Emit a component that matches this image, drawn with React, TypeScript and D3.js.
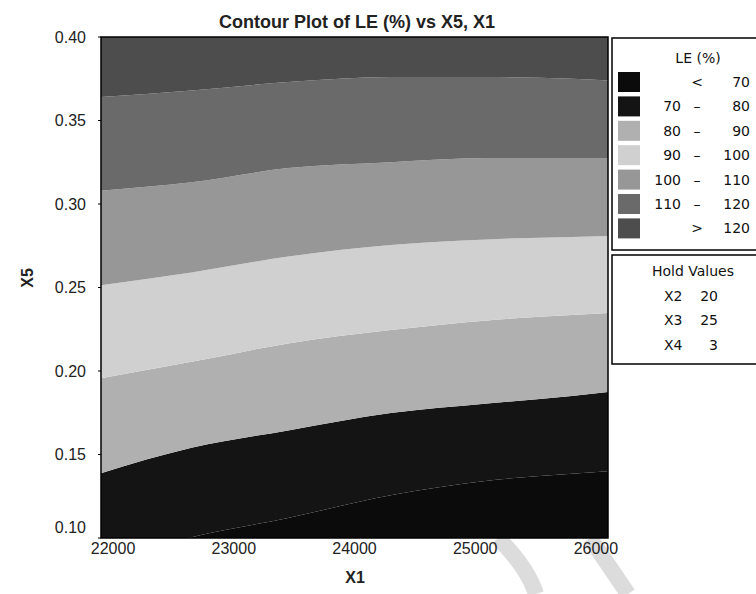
import React from 'react';
import * as d3 from 'd3';

// X1 sample positions along each contour boundary
const x1Grid = [21900, 22650, 23450, 24300, 25100, 25800, 26100];
// X5 value of each contour boundary (LE = 70, 80, ... 120) at those X1 positions
const b70 = [0.086, 0.1005, 0.112, 0.1256, 0.1343, 0.1385, 0.14];
const b80 = [0.1388, 0.154, 0.1644, 0.1748, 0.1805, 0.185, 0.1874];
const b90 = [0.1957, 0.2055, 0.2165, 0.2245, 0.2303, 0.2335, 0.2347];
const b100 = [0.2514, 0.259, 0.2685, 0.2754, 0.2788, 0.2803, 0.2808];
const b110 = [0.308, 0.313, 0.3215, 0.325, 0.3275, 0.3275, 0.3275];
const b120 = [0.364, 0.368, 0.373, 0.376, 0.376, 0.375, 0.374];
const boundaries = [b70, b80, b90, b100, b110, b120];

const bandLo = ['', '70', '80', '90', '100', '110', ''];
const bandHi = ['70', '80', '90', '100', '110', '120', '120'];
const bandSym = ['<', '–', '–', '–', '–', '–', '>'];
const bandColors = ['#0b0b0b', '#141414', '#b0b0b0', '#d0d0d0', '#979797', '#6a6a6a', '#4d4d4d'];

const xTicks = [22000, 23000, 24000, 25000, 26000];
const yTicks = [0.1, 0.15, 0.2, 0.25, 0.3, 0.35, 0.4];

const holdNames = ['X2', 'X3', 'X4'];
const holdVals = ['20', '25', '3'];

const W = 756, H = 594;
const plot = { left: 101, right: 608, top: 37, bottom: 538 };

export default function App() {
  const x = d3.scaleLinear().domain([21900, 26100]).range([plot.left, plot.right]);
  const y = d3.scaleLinear().domain([0.1, 0.4]).range([plot.bottom, plot.top]);
  const yDom = y.domain();

  const bands = bandColors.map((c, i) => {
    const lower = i === 0 ? x1Grid.map(() => yDom[0] - 0.02) : boundaries[i - 1];
    const upper = i === bandColors.length - 1 ? x1Grid.map(() => yDom[1] + 0.02) : boundaries[i];
    const pts = x1Grid.map((v, k) => ({ x: v, lo: lower[k], hi: upper[k] }));
    const area = d3.area<{ x: number; lo: number; hi: number }>()
      .x(d => x(d.x)).y0(d => y(d.lo)).y1(d => y(d.hi))
      .curve(d3.curveMonotoneX);
    return { color: c, d: area(pts) || '' };
  });

  const sans = 'Liberation Sans, Arial, sans-serif';
  const legFont = 'DejaVu Sans, Verdana, sans-serif';
  const legX = 612, legTop = 38, rowH = 24.4;

  return (
    <svg width={W} height={H} style={{ position: 'absolute', left: 0, top: 0, background: '#fff' }}>
      <defs>
        <clipPath id="pclip">
          <rect x={plot.left} y={plot.top} width={plot.right - plot.left} height={plot.bottom - plot.top} />
        </clipPath>
      </defs>
      {/* faint watermark strokes below the plot */}
      <g fill="none" stroke="#dcdcdc" strokeWidth={16}>
        <path d="M498,538 C515,555 530,575 536,594" />
        <path d="M590,538 L628,594" />
      </g>
      <text x={357} y={28} textAnchor="middle" fontFamily={sans} fontWeight="bold" fontSize={18} fill="#222">
        Contour Plot of LE (%) vs X5, X1
      </text>
      <g clipPath="url(#pclip)">
        {bands.map((b, i) => <path key={i} d={b.d} fill={b.color} />)}
      </g>
      <rect x={plot.left} y={plot.top} width={plot.right - plot.left} height={plot.bottom - plot.top}
        fill="none" stroke="#000" strokeWidth={1.5} />
      {yTicks.map((t, i) => (
        <g key={t}>
          <line x1={plot.left - 3} x2={plot.left} y1={y(t)} y2={y(t)} stroke="#000" />
          <text x={86} y={y(t) - (i === 0 ? 11 : 0)} dy="0.35em" textAnchor="end" fontFamily={sans} fontSize={16} fill="#222">
            {d3.format('.2f')(t)}
          </text>
        </g>
      ))}
      {xTicks.map(t => (
        <text key={t} x={x(t)} y={554} textAnchor="middle" fontFamily={sans} fontSize={16} fill="#222">
          {t}
        </text>
      ))}
      <text x={355} y={583} textAnchor="middle" fontFamily={sans} fontWeight="bold" fontSize={16} fill="#222">X1</text>
      <text transform={`translate(27,278) rotate(-90)`} textAnchor="middle"
        dy="0.35em" fontFamily={sans} fontWeight="bold" fontSize={16} fill="#222">X5</text>

      {/* Legend */}
      <rect x={legX} y={legTop} width={W - legX + 5} height={212} fill="#fff" stroke="#000" strokeWidth={1.5} />
      <text x={698} y={63} textAnchor="middle" fontFamily={legFont} fontSize={14} fill="#111">LE (%)</text>
      {bandColors.map((c, k) => {
        const cy = 82 + k * rowH;
        return (
          <g key={k}>
            <rect x={618} y={cy - 10} width={22} height={20} fill={c} />
            {bandLo[k] && <text x={681} y={cy} dy="0.35em" textAnchor="end" fontFamily={legFont} fontSize={14} fill="#111">{bandLo[k]}</text>}
            <text x={697} y={cy} dy="0.35em" textAnchor="middle" fontFamily={legFont} fontSize={14} fill="#111">{bandSym[k]}</text>
            <text x={750} y={cy} dy="0.35em" textAnchor="end" fontFamily={legFont} fontSize={14} fill="#111">{bandHi[k]}</text>
          </g>
        );
      })}
      <rect x={legX} y={255} width={W - legX + 5} height={109} fill="#fff" stroke="#000" strokeWidth={1.5} />
      <text x={693} y={276} textAnchor="middle" fontFamily={legFont} fontSize={14} fill="#111">Hold Values</text>
      {holdNames.map((n, k) => (
        <g key={n}>
          <text x={664} y={296 + k * 24.5} dy="0.35em" fontFamily={legFont} fontSize={14} fill="#111">{n}</text>
          <text x={718} y={296 + k * 24.5} dy="0.35em" textAnchor="end" fontFamily={legFont} fontSize={14} fill="#111">{holdVals[k]}</text>
        </g>
      ))}
    </svg>
  );
}
